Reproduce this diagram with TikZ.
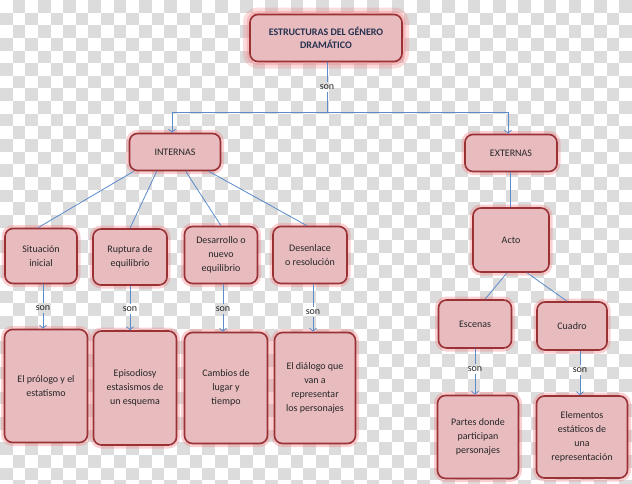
\documentclass[tikz,border=0pt]{standalone}
\usepackage{fontspec}
\setmainfont{Carlito}
\usetikzlibrary{arrows.meta}
\definecolor{boxfill}{HTML}{E8BCBF}
\definecolor{boxborder}{HTML}{993135}
\definecolor{glow}{HTML}{F28A8E}
\definecolor{linkblue}{HTML}{5B8BCB}
\definecolor{textdark}{HTML}{262626}
\definecolor{titletext}{HTML}{24304F}
\definecolor{checker}{HTML}{DCDCDC}

\begin{document}
\begin{tikzpicture}[x=1pt, y=-1pt,
  box/.style={fill=boxfill, draw=boxborder, line width=1.6pt, rounded corners=8pt,
              align=center, inner sep=2pt, text=textdark,
              font=\fontsize{10}{14}\selectfont,
              preaction={draw=glow, line width=7pt, draw opacity=.4}},
  conn/.style={linkblue, line width=0.8pt},
  arr/.style={conn, -{Straight Barb[length=3pt,width=7pt]}},
  son/.style={font=\fontsize{10}{12}\selectfont, text=textdark, inner sep=2pt}
]
  \useasboundingbox (0,0) rectangle (632,483);

  % fondo a cuadros
  \begin{scope}
    \clip (0,0) rectangle (632,483);
    \foreach \i in {0,...,50}
      \foreach \j in {0,...,38}{
        \ifodd\numexpr\i+\j\relax
          \fill[checker] (\i*12.64,\j*12.64) rectangle ++(12.64,12.64);
        \fi
      }
  \end{scope}

  \node[box, minimum width=152, minimum height=47, text=titletext,
        font=\bfseries\fontsize{10}{13}\selectfont,
        preaction={draw=glow, line width=14pt, draw opacity=.3}]
    (titulo) at (326,38) {ESTRUCTURAS DEL GÉNERO\\DRAMÁTICO};

  \node[box, minimum width=91, minimum height=37] (internas) at (175,152) {INTERNAS};
  \node[box, minimum width=92, minimum height=37] (externas) at (511,153) {EXTERNAS};

  \node[box, minimum width=72, minimum height=55] (situacion) at (41,256) {Situación\\inicial};
  \node[box, minimum width=74, minimum height=56] (ruptura) at (130,257) {Ruptura de\\equilibrio};
  \node[box, minimum width=73, minimum height=57] (desarrollo) at (221,255) {Desarrollo o\\nuevo\\equilibrio};
  \node[box, minimum width=74, minimum height=57] (desenlace) at (310,255) {Desenlace\\o resolución};

  \node[box, minimum width=83, minimum height=113] (prologo) at (46,386) {El prólogo y el\\estatismo};
  \node[box, minimum width=83, minimum height=114] (episodios) at (135,388) {Episodiosy\\estasismos de\\un esquema};
  \node[box, minimum width=83, minimum height=111] (cambios) at (226,388) {Cambios de\\lugar y\\tiempo};
  \node[box, minimum width=81, minimum height=111] (dialogo) at (315,388) {El diálogo que\\van a\\representar\\los personajes};

  \node[box, minimum width=76, minimum height=64] (acto) at (511,240) {Acto};
  \node[box, minimum width=73, minimum height=48] (escenas) at (475,324) {Escenas};
  \node[box, minimum width=70, minimum height=48] (cuadro) at (572,326) {Cuadro};
  \node[box, minimum width=81, minimum height=83] (partes) at (478,437) {Partes donde\\participan\\personajes};
  \node[box, minimum width=91, minimum height=82] (elementos) at (582,437) {Elementos\\estáticos de\\una\\representación};

  % etiquetas "son"
  \node[son] (son0) at (327,87) {son};
  \node[son] (son1) at (43,308) {son};
  \node[son] (son2) at (130,309) {son};
  \node[son] (son3) at (223,309) {son};
  \node[son] (son4) at (313,312) {son};
  \node[son] (son5) at (475,369) {son};
  \node[son] (son6) at (580,370) {son};

  \coordinate (split) at (327,112);

  \draw[conn] (titulo.south -| son0) -- (son0);
  \draw[conn] (son0) -- (split);
  \draw[arr] (split) -| ([xshift=-3pt]internas.north);
  \draw[arr] (split) -| ([xshift=-3pt]externas.north);

  \draw[conn] ([xshift=5pt]internas.south west) -- ([xshift=-3pt]situacion.north);
  \draw[conn] ([xshift=28pt]internas.south west) -- (ruptura.north);
  \draw[conn] ([xshift=57pt]internas.south west) -- (desarrollo.north);
  \draw[conn] ([xshift=80pt]internas.south west) -- ([xshift=-3pt]desenlace.north);

  \draw[conn] (situacion.south -| son1) -- (son1);  \draw[arr] (son1) -- (son1 |- prologo.north);
  \draw[conn] (ruptura.south -| son2) -- (son2);    \draw[arr] (son2) -- (son2 |- episodios.north);
  \draw[conn] (desarrollo.south -| son3) -- (son3); \draw[arr] (son3) -- (son3 |- cambios.north);
  \draw[conn] (desenlace.south -| son4) -- (son4);  \draw[arr] (son4) -- (son4 |- dialogo.north);

  \draw[conn] ([xshift=-1pt]externas.south) -- ([xshift=-1pt]acto.north);
  \draw[conn] ([xshift=-4pt]acto.south) -- ([xshift=10pt]escenas.north);
  \draw[conn] ([xshift=16pt]acto.south) -- ([xshift=-5pt]cuadro.north);

  \draw[conn] (escenas.south -| son5) -- (son5);  \draw[arr] (son5) -- (son5 |- partes.north);
  \draw[conn] (cuadro.south -| son6) -- (son6);   \draw[arr] (son6) -- (son6 |- elementos.north);
\end{tikzpicture}
\end{document}
